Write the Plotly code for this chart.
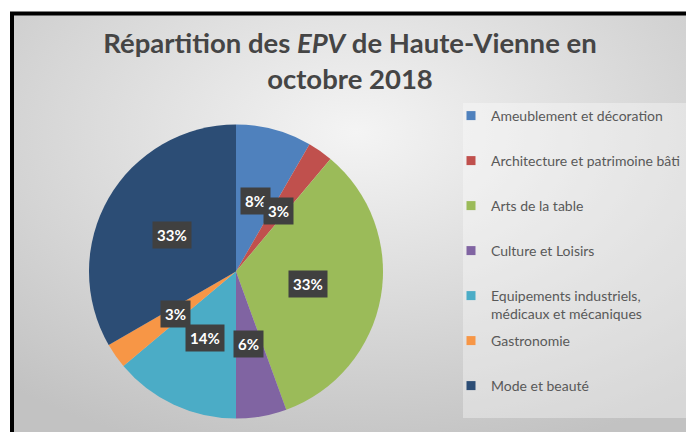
import base64
import math
import plotly.graph_objects as go

# ---------------- data ----------------
categories = [
    "Ameublement et décoration",
    "Architecture et patrimoine bâti",
    "Arts de la table",
    "Culture et Loisirs",
    "Equipements industriels, médicaux et mécaniques",
    "Gastronomie",
    "Mode et beauté",
]
legend_labels = [
    "Ameublement et décoration",
    "Architecture et patrimoine bâti",
    "Arts de la table",
    "Culture et Loisirs",
    "Equipements industriels,<br>médicaux et mécaniques",
    "Gastronomie",
    "Mode et beauté",
]
counts = [3, 1, 12, 2, 5, 1, 12]
colors = ["#4F81BD", "#C0504D", "#9BBB59", "#8064A2", "#4BACC6", "#F79646", "#2C4D75"]

# page is 694x432; the html body adds an 8px margin, so the figure is 686x424
OFF = 8
W, H = 694 - OFF, 432 - OFF
FONT = "Lato"


def fx(page_x):
    return (page_x - OFF) / W


def fy(page_y):  # page y measured from top
    return (H - (page_y - OFF)) / H


# pie placement (page pixels)
cx, cy_top, R = 236, 271.5, 147

fig = go.Figure()
fig.add_trace(go.Pie(
    labels=categories,
    values=counts,
    sort=False,
    direction="clockwise",
    rotation=0,
    marker=dict(colors=colors, line=dict(width=0)),
    textinfo="none",
    hoverinfo="label+percent",
    showlegend=False,
    domain=dict(x=[fx(cx - R), fx(cx + R)], y=[fy(cy_top + R), fy(cy_top - R)]),
))

# legend entries (legend-only traces, one group each for spacing)
for lab, col in zip(legend_labels, colors):
    text = lab if "<br>" in lab else lab + "<br>\u00a0"
    fig.add_trace(go.Scatter(
        x=[None], y=[None], mode="markers", name=text,
        marker=dict(symbol="square", size=9, color=col),
        legendgroup=lab, showlegend=True, hoverinfo="skip",
    ))

# percentage labels in dark boxes, placed at mid-angle of each slice
total = sum(counts)
annotations = []
cum = 0
for v in counts:
    theta = 2 * math.pi * (cum + v / 2) / total
    cum += v
    px = cx + 0.5 * R * math.sin(theta)
    py = cy_top - 0.5 * R * math.cos(theta)
    annotations.append(dict(
        x=fx(px), y=fy(py), xref="paper", yref="paper",
        xanchor="center", yanchor="middle",
        text=f"{round(100 * v / total)}%", showarrow=False,
        font=dict(family=FONT, size=15, color="white", weight="bold"),
        bgcolor="#404040", borderpad=4,
    ))

# gradient background as inline SVG
svg = (
    "<svg xmlns='http://www.w3.org/2000/svg' width='700' height='440' preserveAspectRatio='none'>"
    "<defs><radialGradient id='g' cx='50%' cy='28%' r='78%'>"
    "<stop offset='0' stop-color='#f4f4f4'/><stop offset='1' stop-color='#c2c2c2'/>"
    "</radialGradient></defs>"
    "<rect width='700' height='440' fill='url(#g)'/></svg>"
)
src = "data:image/svg+xml;base64," + base64.b64encode(svg.encode()).decode()

fig.update_layout(
    width=W, height=H,
    margin=dict(l=0, r=0, t=0, b=0),
    paper_bgcolor="white",
    plot_bgcolor="rgba(0,0,0,0)",
    xaxis=dict(visible=False),
    yaxis=dict(visible=False),
    title=dict(
        text="Répartition des <i>EPV</i> de Haute-Vienne en<br>octobre 2018",
        x=fx(350), xanchor="center", y=fy(53), yanchor="top",
        font=dict(family=FONT, size=27.5, color="#454545", weight="bold"),
    ),
    legend=dict(
        x=fx(451), xanchor="left", y=fy(100), yanchor="top",
        bgcolor="rgba(0,0,0,0)",
        font=dict(family=FONT, size=14, color="#595959"),
        valign="top", tracegroupgap=5.6, traceorder="grouped",
    ),
    images=[dict(
        source=src, xref="paper", yref="paper",
        x=fx(12), y=fy(13), xanchor="left", yanchor="top",
        sizex=fx(700) - fx(12), sizey=fy(13) - fy(440),
        sizing="stretch", layer="below",
    )],
    shapes=[
        dict(type="rect", xref="paper", yref="paper",
             x0=fx(463), x1=fx(700), y0=fy(418), y1=fy(103),
             fillcolor="rgba(255,255,255,0.35)", line=dict(width=0), layer="below"),
        dict(type="rect", xref="paper", yref="paper",
             x0=fx(12), x1=fx(720), y0=fy(460), y1=fy(13.5),
             line=dict(color="black", width=4), fillcolor="rgba(0,0,0,0)"),
    ],
    annotations=annotations,
)

fig.write_html("out.html")
